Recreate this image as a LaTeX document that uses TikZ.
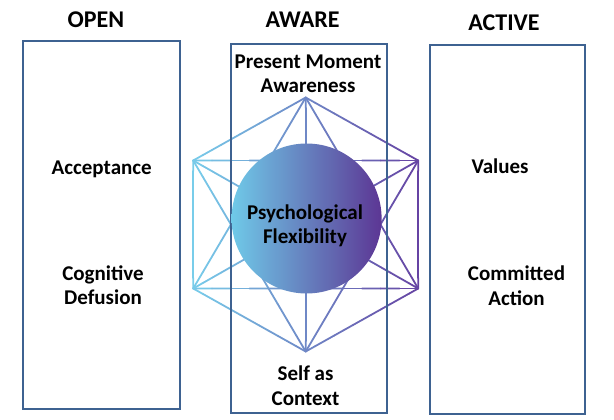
\documentclass[tikz,border=0pt]{standalone}
\usepackage{fontspec}
\setmainfont{Carlito}
\usetikzlibrary{calc}
\definecolor{boxblue}{HTML}{3E6291}
\definecolor{flexleft}{HTML}{6FC9E8}
\definecolor{flexright}{HTML}{5C3694}
\definecolor{starleft}{HTML}{78CDEA}
\definecolor{starright}{HTML}{6643A3}
\tikzset{
  pillar/.style={draw=boxblue, line width=2pt, inner sep=0pt},
  heading/.style={font=\bfseries\fontsize{24}{28}\selectfont, inner sep=0pt},
  process/.style={font=\bfseries\fontsize{21}{24.5}\selectfont, align=center, inner sep=0pt},
  hubdisc/.style={circle, minimum size=150pt, inner sep=0pt, left color=flexleft, right color=flexright},
  starline/.style={line width=1.8pt, line cap=round}
}
\newdimen\flexx
\newcommand\flexedge[2]{%
  \foreach \k in {1,...,12}{%
    \coordinate (ga) at ($(#1)!{(\k-1)/12}!(#2)$);
    \coordinate (gb) at ($(#1)!{\k/12}!(#2)$);
    \coordinate (gm) at ($(ga)!0.5!(gb)$);
    \pgfextractx{\flexx}{\pgfpointanchor{gm}{center}}%
    \pgfmathsetmacro\flexmix{max(0,min(100,(\flexx-193.2)/2.25))}%
    \draw[starline, draw=starright!\flexmix!starleft] (ga) -- (gb);
  }%
}
\begin{document}
\begin{tikzpicture}[x=1pt, y=-1pt]
  \useasboundingbox (0,0) rectangle (614,420);
  \coordinate (hub) at (305.7,224.5);
  \coordinate (vt) at ($(hub)+(0,-127)$);
  \coordinate (vur) at ($(hub)+(112.5,-64)$);
  \coordinate (vlr) at ($(hub)+(112.5,64)$);
  \coordinate (vb) at ($(hub)+(0,127)$);
  \coordinate (vll) at ($(hub)+(-112.5,64)$);
  \coordinate (vul) at ($(hub)+(-112.5,-64)$);

  \foreach \a/\b in {vt/vur, vur/vlr, vlr/vb, vb/vll, vll/vul, vul/vt,
                     vt/vll, vll/vlr, vlr/vt, vb/vul, vul/vur, vur/vb,
                     hub/vt, hub/vur, hub/vlr, hub/vb, hub/vll, hub/vul}
    \flexedge{\a}{\b};

  \node[pillar, minimum width=156.7pt, minimum height=368.6pt] (openbox) at (101.6,225) {};
  \node[pillar, minimum width=156.3pt, minimum height=369.3pt] (awarebox) at (308.9,228.7) {};
  \node[pillar, minimum width=155pt, minimum height=369.6pt] (activebox) at (507.5,229.5) {};

  \node[hubdisc] (flex) at (306.6,218.5) {};
  \node[process] (flextext) at (305,226) {Psychological\\Flexibility};

  \node[heading, anchor=base] (open) at (96,28) {OPEN};
  \node[heading, anchor=base] (aware) at (302.5,28) {AWARE};
  \node[heading, anchor=base] (active) at (504,31) {ACTIVE};

  \node[process, anchor=base] (acceptance) at (101.7,175) {Acceptance};
  \node[process] (defusion) at (103,285) {Cognitive\\Defusion};
  \node[process] (present) at (308,74) {Present Moment\\Awareness};
  \node[process] (selfctx) at (305.5,385.5) {Self as\\Context};
  \node[process, anchor=base] (values) at (500,173.3) {Values};
  \node[process] (committed) at (516.5,285.5) {Committed\\Action};
\end{tikzpicture}
\end{document}
